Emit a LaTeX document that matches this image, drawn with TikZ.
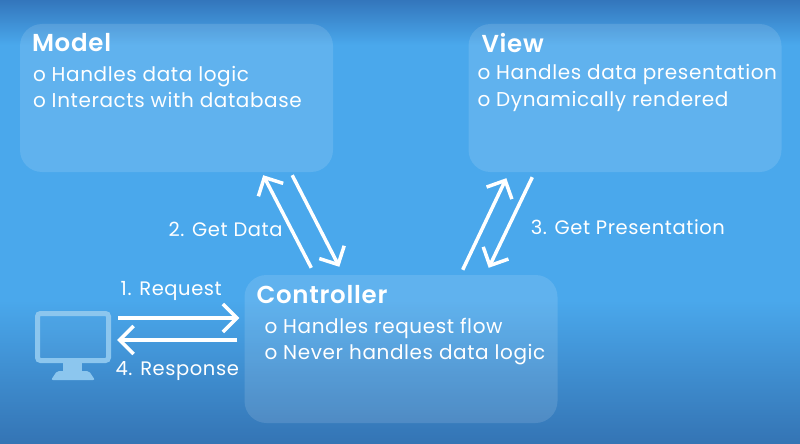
\documentclass[tikz,border=0pt]{standalone}
\usepackage{fontspec}
\setmainfont{Poppins}[LetterSpace=3, BoldFont={Poppins SemiBold}]
\usetikzlibrary{arrows.meta,positioning}

\definecolor{bgtop}{HTML}{3376BC}
\definecolor{bgmid}{HTML}{4AA8EC}
\definecolor{bgbot}{HTML}{3474B4}
\definecolor{screen}{HTML}{8CC6EE}

\tikzset{
  panel/.style={rectangle, rounded corners=22pt, fill=white, fill opacity=0.12,
    minimum width=313pt, minimum height=148pt, inner sep=0pt},
  heading/.style={anchor=base west, text=white, inner sep=0pt,
    font=\fontsize{24.5}{24.5}\selectfont\bfseries},
  point/.style={anchor=base west, text=white, inner sep=0pt,
    font=\fontsize{20}{20}\selectfont},
  flow/.style={draw=white, line width=3.5pt, -{Straight Barb[length=14pt,width=28pt]}},
  lbl/.style={text=white, inner sep=0pt, font=\fontsize{19.5}{19.5}\selectfont}
}

\begin{document}
\begin{tikzpicture}[x=1pt,y=-1pt]
    \useasboundingbox (0,0) rectangle (800,444);
    \fill[bgmid] (0,0) rectangle (800,444);
    \shade[top color=bgtop, bottom color=bgmid] (0,0) rectangle (800,45);
    \shade[top color=bgmid, bottom color=bgbot] (0,300) rectangle (800,444);

    % boxes
    \node (model) [panel] at (176.5,98) {};
    \node (view) [panel] at (625,98) {};
    \node (ctrl) [panel] at (401,349) {};

    % model
    \node (modeltitle) [heading] at ([xshift=12pt,yshift=-28pt]model.north west) {Model};
    \node (model1) [point] at ([xshift=13pt,yshift=-58pt]model.north west) {o Handles data logic};
    \node (model2) [point] at ([xshift=13pt,yshift=-84pt]model.north west) {o Interacts with database};

    % view
    \node (viewtitle) [heading] at ([xshift=13pt,yshift=-29pt]view.north west) {View};
    \node (view1) [point] at ([xshift=9pt,yshift=-56pt]view.north west) {o Handles data presentation};
    \node (view2) [point] at ([xshift=9pt,yshift=-83pt]view.north west) {o Dynamically rendered};

    % controller
    \node (ctrltitle) [heading] at ([xshift=12pt,yshift=-29pt]ctrl.north west) {Controller};
    \node (ctrl1) [point] at ([xshift=20pt,yshift=-59pt]ctrl.north west) {o Handles request flow};
    \node (ctrl2) [point] at ([xshift=20pt,yshift=-85pt]ctrl.north west) {o Never handles data logic};

    % computer
    \node (pc) [minimum width=76pt, minimum height=69pt, inner sep=0pt] at (73,345.5) {};
    \draw[screen, line width=5pt, rounded corners=3pt, fill=screen, fill opacity=0.08]
        (37.5,313.5) rectangle (108.5,360.5);
    \fill[screen] (63,362) rectangle (82,373);
    \fill[screen, rounded corners=2pt] (51,380) -- (57,371) -- (89,371) -- (95,380) -- cycle;

    % arrows
    \draw[flow] ([xshift=7pt,yshift=27.5pt]pc.east) --
        node[lbl, midway, anchor=base, xshift=-7.5pt, yshift=23pt] (reqlbl) {1. Request}
        ([xshift=-5pt,yshift=31pt]ctrl.west);
    \draw[flow] ([xshift=-7pt,yshift=9pt]ctrl.west) --
        node[lbl, midway, anchor=base, yshift=-35pt] (reslbl) {4. Response}
        ([xshift=6pt,yshift=5.5pt]pc.east);
    \draw[flow] ([xshift=67pt,yshift=7pt]ctrl.north west) --
        node[lbl, pos=0.333, anchor=base east, xshift=-11pt] (datalbl) {2. Get Data}
        ([xshift=-70pt,yshift=-3pt]model.south east);
    \draw[flow] ([xshift=-41pt,yshift=-3pt]model.south east) -- ([xshift=95pt,yshift=8pt]ctrl.north west);
    \draw[flow] ([xshift=-95pt,yshift=5pt]ctrl.north east) -- ([xshift=38pt,yshift=-6pt]view.south west);
    \draw[flow] ([xshift=64pt,yshift=-5pt]view.south west) --
        node[lbl, pos=0.637, anchor=base west, xshift=24.5pt] (preslbl) {3. Get Presentation}
        ([xshift=-69pt,yshift=7pt]ctrl.north east);
\end{tikzpicture}
\end{document}
